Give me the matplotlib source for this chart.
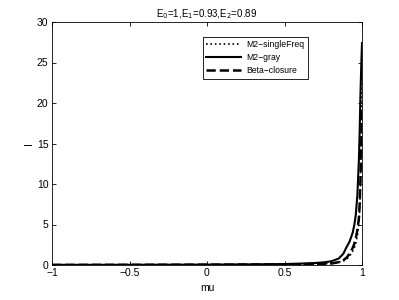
import matplotlib
matplotlib.use("Agg")
import matplotlib.pyplot as plt

mu = [-1.0, -0.5, 0.0, 0.3, 0.5, 0.6, 0.7, 0.75, 0.8, 0.85, 0.88, 0.9, 0.92, 0.94,
      0.95, 0.96, 0.97, 0.98, 0.985, 0.99, 0.995, 1.0]
single_freq = [0.01, 0.02, 0.03, 0.05, 0.07, 0.09, 0.12, 0.16, 0.22, 0.35, 0.5, 0.7,
               1.1, 1.7, 2.1, 2.7, 3.6, 5.2, 6.8, 10.0, 16.0, 26.0]
gray = [0.02, 0.03, 0.05, 0.08, 0.12, 0.17, 0.25, 0.32, 0.45, 0.8, 1.4, 2.2,
        2.9, 4.0, 4.9, 6.2, 8.6, 13.0, 16.5, 21.0, 24.5, 27.4]
beta = [0.01, 0.02, 0.04, 0.06, 0.08, 0.1, 0.12, 0.14, 0.17, 0.35, 0.6, 0.9,
        1.4, 2.1, 2.6, 3.3, 4.3, 5.8, 7.5, 10.5, 14.5, 19.0]
labels = ["M2\u2212singleFreq", "M2\u2212gray", "Beta\u2212closure"]
xticks = [-1, -0.5, 0, 0.5, 1]
xticklabels = ["\u22121", "\u22120.5", "0", "0.5", "1"]
yticks = [0, 5, 10, 15, 20, 25, 30]

plt.rcParams['font.family'] = ['Liberation Sans', 'DejaVu Sans']
plt.rcParams['font.size'] = 7.5

fig = plt.figure(figsize=(3.99, 3.0), dpi=100)
ax = fig.add_axes([52/399, 35/300, 310/399, 243/300])

ax.plot(mu, single_freq, color='black', linestyle=':', linewidth=1.2, label=labels[0])
ax.plot(mu, gray, color='black', linestyle='-', linewidth=1.5, label=labels[1])
ax.plot(mu, beta, color='black', linestyle='--', linewidth=1.8, label=labels[2])

ax.set_xlim(-1, 1)
ax.set_ylim(0, 30)
ax.set_xticks(xticks)
ax.set_xticklabels(xticklabels)
ax.set_yticks(yticks)
ax.tick_params(direction='in', length=3, width=0.6, top=True, right=True, pad=2.5)
for s in ax.spines.values():
    s.set_linewidth(0.6)

ax.set_xlabel("mu", labelpad=3)
ax.set_ylabel("I", labelpad=2)
ax.set_title("E$_0$=1,E$_1$=0.93,E$_2$=0.89", fontsize=7.0, pad=3.5)

leg = ax.legend(loc='upper right', bbox_to_anchor=(0.826, 0.94), frameon=True,
                fancybox=False, edgecolor='black', framealpha=1, borderpad=0.45,
                handlelength=4.0, labelspacing=0.45, handletextpad=0.6,
                borderaxespad=0, prop={'size': 6.2})
leg.get_frame().set_linewidth(0.6)

fig.savefig("out.png", dpi=100)
